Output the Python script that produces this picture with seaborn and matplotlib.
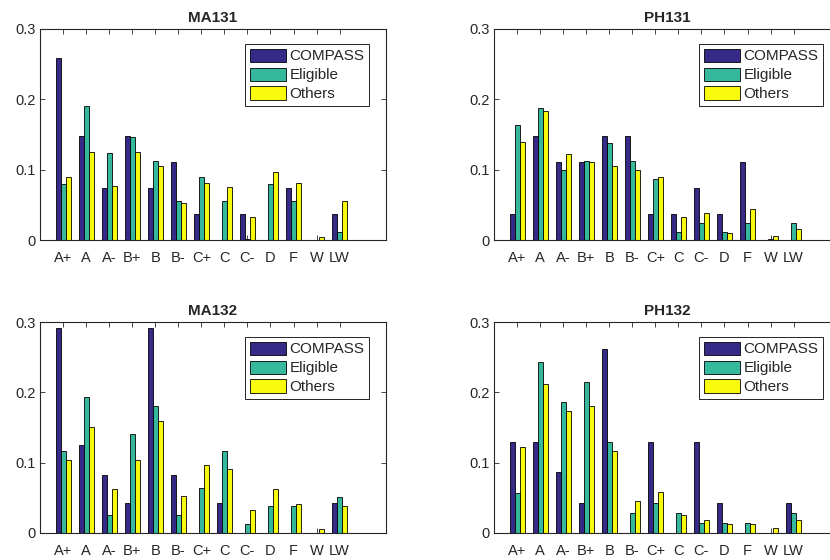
# grade distribution of COMPASS / Eligible / Others students, four courses
import pandas as pd
import seaborn as sns
import matplotlib.pyplot as plt

grades = ['A+', 'A', 'A-', 'B+', 'B', 'B-', 'C+', 'C', 'C-', 'D', 'F', 'W', 'LW']
groups = ['COMPASS', 'Eligible', 'Others']

ma131_compass = [0.259, 0.148, 0.074, 0.148, 0.074, 0.111, 0.037, 0.0, 0.037, 0.0, 0.074, 0.0, 0.037]
ma131_eligible = [0.079, 0.191, 0.124, 0.146, 0.112, 0.056, 0.090, 0.056, 0.002, 0.079, 0.056, 0.0, 0.011]
ma131_others = [0.090, 0.125, 0.077, 0.125, 0.105, 0.053, 0.081, 0.075, 0.032, 0.096, 0.081, 0.004, 0.055]

ph131_compass = [0.037, 0.148, 0.111, 0.111, 0.148, 0.148, 0.037, 0.037, 0.074, 0.037, 0.111, 0.0, 0.0]
ph131_eligible = [0.163, 0.188, 0.100, 0.112, 0.138, 0.112, 0.087, 0.012, 0.024, 0.012, 0.024, 0.001, 0.024]
ph131_others = [0.139, 0.184, 0.122, 0.111, 0.105, 0.100, 0.089, 0.033, 0.039, 0.010, 0.044, 0.005, 0.016]

ma132_compass = [0.292, 0.125, 0.083, 0.042, 0.292, 0.083, 0.0, 0.042, 0.0, 0.0, 0.0, 0.0, 0.042]
ma132_eligible = [0.116, 0.193, 0.026, 0.141, 0.180, 0.026, 0.064, 0.116, 0.013, 0.038, 0.038, 0.0, 0.051]
ma132_others = [0.104, 0.151, 0.063, 0.104, 0.159, 0.052, 0.096, 0.091, 0.033, 0.063, 0.041, 0.006, 0.038]

ph132_compass = [0.130, 0.130, 0.087, 0.043, 0.261, 0.0, 0.130, 0.0, 0.130, 0.043, 0.0, 0.0, 0.043]
ph132_eligible = [0.057, 0.243, 0.186, 0.214, 0.129, 0.029, 0.043, 0.029, 0.014, 0.014, 0.014, 0.0, 0.029]
ph132_others = [0.122, 0.212, 0.173, 0.180, 0.116, 0.045, 0.058, 0.026, 0.019, 0.013, 0.013, 0.007, 0.019]

courses = {
    'MA131': [ma131_compass, ma131_eligible, ma131_others],
    'PH131': [ph131_compass, ph131_eligible, ph131_others],
    'MA132': [ma132_compass, ma132_eligible, ma132_others],
    'PH132': [ph132_compass, ph132_eligible, ph132_others],
}

colors = ['#352a87', '#35b89c', '#f9fb0e']   # parula-ish

sns.set_style('ticks')
plt.rcParams['font.family'] = ['Liberation Sans', 'DejaVu Sans']
plt.rcParams['axes.edgecolor'] = '#262626'
plt.rcParams['xtick.color'] = '#262626'
plt.rcParams['ytick.color'] = '#262626'

fig = plt.figure(figsize=(8.3, 5.6), dpi=100)

# axes boxes in pixels: left, top
W, H = 830, 560
boxes = {
    'MA131': (40, 29),
    'PH131': (494, 29),
    'MA132': (40, 322),
    'PH132': (494, 322),
}
aw, ah = 345.7, 211

for name, series in courses.items():
    x0, y0 = boxes[name]
    ax = fig.add_axes([x0 / W, (H - y0 - ah) / H, aw / W, ah / H])

    rows = []
    for g, vals in zip(groups, series):
        for grade, v in zip(grades, vals):
            rows.append({'grade': grade, 'group': g, 'value': v})
    df = pd.DataFrame(rows)

    sns.barplot(data=df, x='grade', y='value', hue='group', order=grades,
                hue_order=groups, palette=colors, width=0.65, gap=0,
                edgecolor='black', linewidth=0.6, saturation=1, ax=ax)

    ax.set_xlim(-1, 14)
    ax.set_ylim(0, 0.3)
    ax.set_yticks([0, 0.1, 0.2, 0.3])
    ax.set_yticklabels(['0', '0.1', '0.2', '0.3'])
    ax.set_xlabel('')
    ax.set_ylabel('')
    ax.set_title(name, fontsize=11, fontweight='bold', pad=5)
    ax.tick_params(direction='in', top=True, right=True, length=3.5,
                   width=0.6, labelsize=10.5)
    ax.tick_params(axis='x', pad=8)
    ax.tick_params(axis='y', pad=3)
    for s in ax.spines.values():
        s.set_linewidth(0.8)

    sns.move_legend(ax, 'upper right', bbox_to_anchor=(0.952, 0.929),
                    title=None, frameon=True, fancybox=False,
                    edgecolor='black', framealpha=1, fontsize=11,
                    handlelength=2.4, handleheight=0.95, labelspacing=0.27,
                    handletextpad=0.2, borderpad=0.3, borderaxespad=0)
    ax.get_legend().get_frame().set_linewidth(0.6)

plt.savefig('out.png', dpi=100)
